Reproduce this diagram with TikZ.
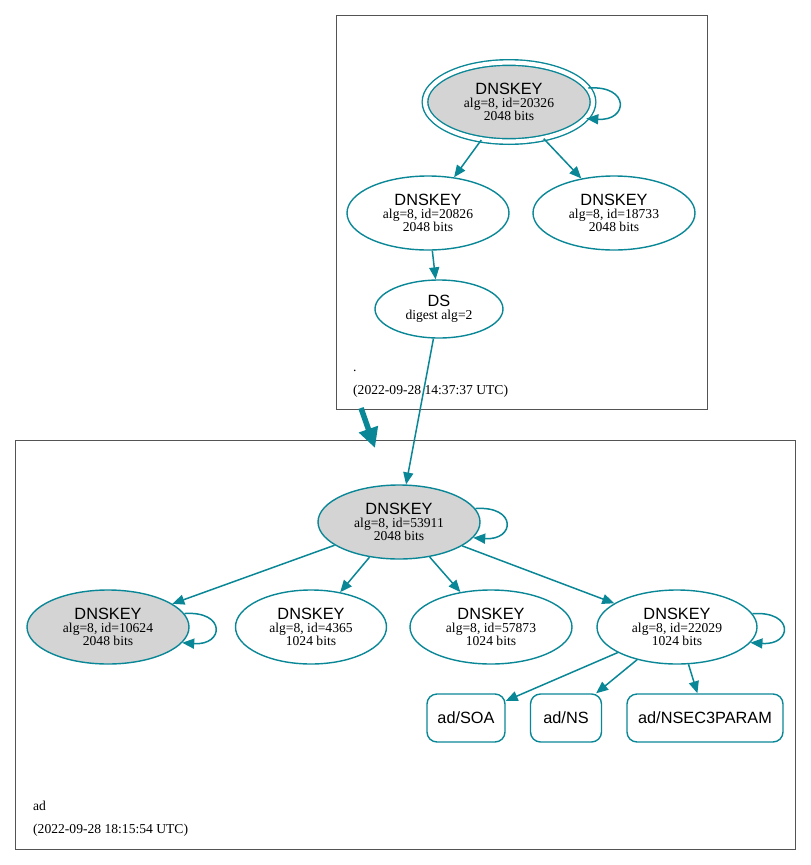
\documentclass[tikz,border=0pt]{standalone}
\usepackage{fontspec}
\setmainfont{Liberation Serif}
\newfontfamily\hvfont{Liberation Sans}
\usetikzlibrary{shapes.geometric,arrows.meta}

\begin{document}
\begin{tikzpicture}[x=1pt,y=-1pt,
  key/.style={ellipse,draw=kTeal,line width=1.4pt,inner sep=0pt,
    minimum width=162pt,minimum height=74pt,align=center,
    font=\fontsize{13.6}{13}\selectfont},
  ksk/.style={key,fill=kGrey},
  trust/.style={ksk,double=white,double distance=4.2pt,
    minimum width=168pt,minimum height=79pt},
  rrset/.style={rectangle,rounded corners=10pt,draw=kTeal,line width=1.4pt,
    minimum height=48pt,inner sep=0pt,font=\hvfont\fontsize{16.3}{16}\selectfont},
  edge/.style={color=kTeal,line width=1.5pt,-{Triangle[length=12pt,width=10pt]}},
  deleg/.style={color=kTeal,line width=5.5pt,-{Triangle[length=20pt,width=19pt]}},
  zone/.style={draw=kBorder,line width=0.8pt},
  stamp/.style={anchor=base west,inner sep=0pt,font=\fontsize{13.6}{13}\selectfont}]
  % colors
  \definecolor{kTeal}{RGB}{10,135,150}
  \definecolor{kGrey}{rgb}{0.83,0.83,0.83}
  \definecolor{kBorder}{rgb}{0.33,0.33,0.33}
  \useasboundingbox (0,0) rectangle (811,865);
  % zones
  \draw[zone] (336,15) rectangle (707,409);
  \draw[zone] (15,440) rectangle (795,849);
  \node[stamp] (rootname) at (353,371) {.};
  \node[stamp] (roottime) at (353,394) {(2022-09-28 14:37:37 UTC)};
  \node[stamp] (adname) at (33,810) {ad};
  \node[stamp] (adtime) at (33,833) {(2022-09-28 18:15:54 UTC)};
  % root keys
  \node[trust] (k20326) at (509,102) {{\hvfont\fontsize{16.3}{13}\selectfont DNSKEY}\\alg=8, id=20326\\2048 bits};
  \node[key] (k20826) at (428,213) {{\hvfont\fontsize{16.3}{13}\selectfont DNSKEY}\\alg=8, id=20826\\2048 bits};
  \node[key] (k18733) at (614,213) {{\hvfont\fontsize{16.3}{13}\selectfont DNSKEY}\\alg=8, id=18733\\2048 bits};
  \node[key,minimum width=128pt,minimum height=58pt] (ds) at (439,309) {{\hvfont\fontsize{16.3}{13}\selectfont DS}\\digest alg=2};
  % ad keys
  \node[ksk] (k53911) at (399,522) {{\hvfont\fontsize{16.3}{13}\selectfont DNSKEY}\\alg=8, id=53911\\2048 bits};
  \node[ksk] (k10624) at (108,627) {{\hvfont\fontsize{16.3}{13}\selectfont DNSKEY}\\alg=8, id=10624\\2048 bits};
  \node[key,minimum width=151pt] (k4365) at (311,627) {{\hvfont\fontsize{16.3}{13}\selectfont DNSKEY}\\alg=8, id=4365\\1024 bits};
  \node[key] (k57873) at (491,627) {{\hvfont\fontsize{16.3}{13}\selectfont DNSKEY}\\alg=8, id=57873\\1024 bits};
  \node[key,minimum width=160pt] (k22029) at (677,627) {{\hvfont\fontsize{16.3}{13}\selectfont DNSKEY}\\alg=8, id=22029\\1024 bits};
  % rrsets
  \node[rrset,minimum width=78pt] (soa) at (466,718) {ad/SOA};
  \node[rrset,minimum width=71pt] (ns) at (566,718) {ad/NS};
  \node[rrset,minimum width=156pt] (nsec3) at (705,718) {ad/NSEC3PARAM};
  % edges
  \draw[edge] (k20326.10) .. controls +(42,-3) and +(42,3) .. (k20326.-12);
  \draw[edge] (k20326) -- (k20826);
  \draw[edge] (k20326) -- (k18733);
  \draw[edge] (k20826) -- (ds);
  \draw[edge] (ds) -- (k53911);
  \coordinate (rootout) at (361,408);
  \coordinate (adin) at (375,448);
  \draw[deleg] (rootout) -- (adin);
  \draw[edge] (k53911.10) .. controls +(42,-3) and +(42,3) .. (k53911.-12);
  \draw[edge] (k53911) -- (k10624);
  \draw[edge] (k53911) -- (k4365);
  \draw[edge] (k53911) -- (k57873);
  \draw[edge] (k53911) -- (k22029);
  \draw[edge] (k10624.10) .. controls +(42,-3) and +(42,3) .. (k10624.-12);
  \draw[edge] (k22029.10) .. controls +(42,-3) and +(42,3) .. (k22029.-12);
  \draw[edge] (k22029) -- (soa);
  \draw[edge] (k22029) -- (ns);
  \draw[edge] (k22029) -- (nsec3);
\end{tikzpicture}
\end{document}
